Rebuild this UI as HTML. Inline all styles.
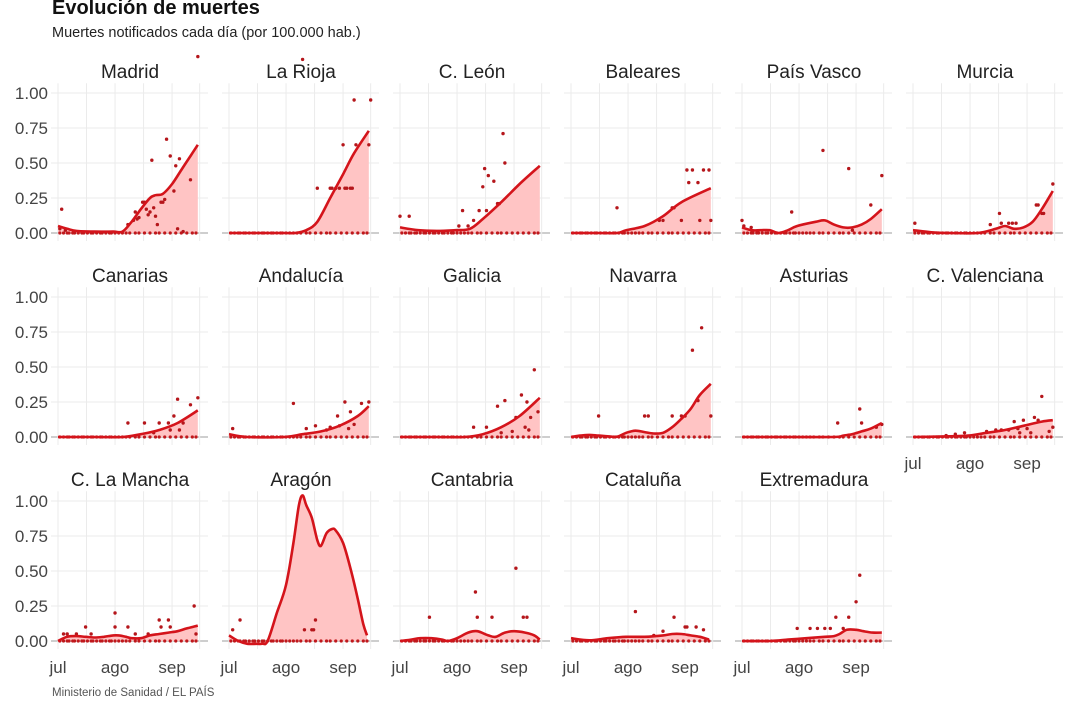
<!DOCTYPE html>
<html><head><meta charset="utf-8">
<style>
body{margin:0;background:#fff;width:1080px;height:701px;overflow:hidden;font-family:"Liberation Sans",sans-serif;}
svg{display:block}
</style></head>
<body>
<svg id="chart" width="1080" height="701" viewBox="0 0 1080 701">
<text x="52" y="14" font-size="20" font-weight="bold" fill="#111">Evolución de muertes</text>
<text x="52" y="37" font-size="14.5" fill="#222">Muertes notificados cada día (por 100.000 hab.)</text>
<text x="52" y="696" font-size="11.5" fill="#555">Ministerio de Sanidad / EL PAÍS</text>
</svg>
<script>
// ---- data ----
const regions = ["Madrid","La Rioja","C. León","Baleares","País Vasco","Murcia","Canarias","Andalucía","Galicia","Navarra","Asturias","C. Valenciana","C. La Mancha","Aragón","Cantabria","Cataluña","Extremadura"];
const yTicks = [0,0.25,0.5,0.75,1];
const yTickLabels = ["0.00","0.25","0.50","0.75","1.00"];
const xTicks = [0,31,62];
const xTickLabels = ["jul","ago","sep"];
const xGrid = [0,15.5,31,46.5,62,77];
const trendMadrid = [[0,.05],[5,.03],[10,.015],[20,.01],[30,.01],[35,.01],[40,.08],[45,.17],[50,.25],[53,.27],[57,.28],[62,.35],[67,.45],[72,.55],[76,.63]];
const trendRioja = [[0,0],[20,0],[30,0],[36,0],[42,.02],[48,.08],[55,.25],[62,.42],[68,.57],[76,.73]];
const trendLeon = [[0,.04],[10,.02],[20,.015],[30,.02],[38,.03],[45,.1],[55,.22],[65,.35],[76,.48]];
const trendBaleares = [[0,0],[15,0],[25,0],[30,.02],[40,.05],[50,.12],[60,.22],[76,.32]];
const trendVasco = [[0,.04],[5,.02],[10,.02],[15,.02],[20,0],[25,.02],[30,.05],[40,.08],[45,.09],[50,.06],[55,.04],[60,.04],[65,.06],[70,.1],[76,.17]];
const trendMurcia = [[0,.02],[10,.005],[20,0],[35,0],[45,.03],[50,.05],[55,.03],[60,.04],[65,.08],[70,.17],[76,.3]];
const trendCanarias = [[0,0],[20,0],[35,0],[45,.02],[55,.05],[65,.1],[76,.19]];
const trendAndalucia = [[0,.02],[10,0],[30,0],[40,.02],[50,.04],[60,.08],[70,.15],[76,.22]];
const trendGalicia = [[0,0],[20,0],[35,0],[45,.02],[55,.07],[65,.15],[76,.28]];
const trendNavarra = [[0,0],[5,.01],[10,.015],[15,.01],[20,.005],[25,.002],[30,.03],[35,.045],[40,.035],[45,.025],[50,.03],[55,.07],[60,.13],[65,.2],[70,.3],[76,.38]];
const trendAsturias = [[0,0],[25,0],[50,0],[55,.01],[60,.02],[65,.04],[70,.06],[76,.1]];
const trendValenciana = [[0,0],[20,.005],[30,.01],[40,.03],[50,.05],[60,.08],[70,.11],[76,.12]];
const trendMancha = [[0,0],[5,.03],[10,.035],[15,.03],[20,.025],[25,.03],[30,.04],[33,.04],[37,.03],[40,.02],[45,.02],[50,.04],[55,.05],[60,.06],[65,.07],[70,.09],[76,.11]];
const trendAragon = [[0,.04],[5,0],[10,-.02],[15,-.02],[18,-.02],[21,0],[26,.2],[31,.4],[35,.7],[38,.97],[40,1.04],[42,.97],[45,.88],[48,.72],[50,.68],[53,.77],[56,.8],[58,.79],[62,.7],[66,.52],[70,.3],[73,.12],[75,.04]];
const trendCantabria = [[0,0],[6,.01],[11,.02],[17,.02],[23,.01],[26,0],[31,.02],[37,.06],[42,.07],[48,.04],[52,.03],[57,.06],[62,.07],[68,.06],[73,.04],[76,.01]];
const trendCataluna = [[0,.02],[10,.005],[20,.02],[30,.03],[40,.03],[50,.04],[55,.05],[60,.05],[65,.04],[70,.03],[75,.01]];
const trendExtremadura = [[0,0],[15,0],[25,.01],[35,.02],[45,.03],[50,.035],[53,.05],[57,.08],[62,.08],[66,.07],[71,.06],[76,.06]];
const dotsMadrid = [[2,.17],[1,.03],[4,.02],[38,.06],[41,.09],[42,.15],[43,.1],[44,.11],[46,.22],[47,.22],[48,.17],[49,.13],[50,.15],[51,.52],[52,.18],[53,.12],[54,.06],[56,.22],[57,.22],[58,.24],[59,.67],[61,.55],[63,.3],[64,.48],[66,.53],[65,.03],[68,.01],[72,.38],[76,1.26]];
const dotsRioja = [[40,1.24],[48,.32],[55,.32],[56,.32],[58,.32],[60,.32],[62,.63],[63,.32],[64,.32],[66,.32],[67,.32],[68,.95],[69,.63],[76,.63],[77,.95]];
const dotsLeon = [[0,.12],[5,.12],[32,.05],[34,.16],[37,.05],[40,.09],[43,.16],[45,.33],[46,.46],[47,.16],[48,.41],[51,.37],[53,.21],[54,.21],[56,.71],[57,.5]];
const dotsBaleares = [[25,.18],[48,.09],[50,.09],[55,.18],[56,.18],[60,.09],[64,.36],[63,.45],[66,.45],[69,.36],[70,.09],[72,.45],[75,.45],[76,.09]];
const dotsVasco = [[0,.09],[1,.05],[5,.04],[27,.15],[44,.59],[58,.46],[60,.02],[70,.2],[76,.41]];
const dotsMurcia = [[1,.07],[42,.06],[47,.14],[48,.07],[52,.07],[54,.07],[56,.07],[67,.2],[68,.2],[70,.14],[71,.14],[76,.35]];
const dotsCanarias = [[38,.1],[47,.1],[52,.03],[55,.1],[60,.1],[61,.05],[63,.15],[65,.27],[66,.05],[68,.1],[72,.23],[76,.28]];
const dotsAndalucia = [[2,.06],[35,.24],[42,.06],[47,.08],[53,.05],[55,.07],[59,.15],[60,.08],[63,.25],[65,.06],[66,.18],[68,.09],[72,.24],[76,.25]];
const dotsGalicia = [[40,.07],[47,.07],[53,.22],[55,.03],[57,.26],[61,.04],[63,.14],[66,.3],[68,.07],[69,.25],[70,.05],[71,.14],[73,.48],[75,.18]];
const dotsNavarra = [[15,.15],[40,.15],[42,.15],[55,.15],[60,.15],[62,.15],[66,.62],[69,.26],[71,.78],[76,.15]];
const dotsAsturias = [[52,.1],[64,.2],[65,.1],[73,.07],[76,.09]];
const dotsValenciana = [[18,.01],[23,.02],[28,.03],[40,.04],[45,.05],[48,.05],[52,.05],[55,.11],[57,.06],[58,.03],[60,.12],[62,.06],[64,.03],[66,.14],[68,.12],[70,.29],[74,.04],[76,.07]];
const dotsMancha = [[3,.05],[5,.05],[10,.05],[15,.1],[18,.05],[31,.2],[31,.1],[38,.1],[42,.05],[49,.05],[55,.15],[56,.1],[60,.15],[61,.1],[74,.25],[75,.05]];
const dotsAragon = [[2,.08],[6,.15],[41,.08],[45,.08],[46,.08],[47,.15]];
const dotsCantabria = [[16,.17],[41,.35],[42,.17],[50,.17],[63,.52],[67,.17],[69,.17]];
const dotsCataluna = [[35,.21],[45,.04],[50,.07],[56,.17],[62,.1],[63,.1],[68,.1],[72,.08]];
const dotsExtremadura = [[30,.09],[37,.09],[41,.09],[45,.09],[48,.09],[51,.17],[55,.09],[58,.17],[62,.28],[64,.47]];
const zeroDays = [1,3,5,6,8,9,11,13,14,16,18,19,21,23,24,26,28,29,31,33,35,37,39,42,44,47,50,53,55,58,61,64,67,70,73,75];
const trends = [trendMadrid,trendRioja,trendLeon,trendBaleares,trendVasco,trendMurcia,trendCanarias,trendAndalucia,trendGalicia,trendNavarra,trendAsturias,trendValenciana,trendMancha,trendAragon,trendCantabria,trendCataluna,trendExtremadura];
const dots = [dotsMadrid,dotsRioja,dotsLeon,dotsBaleares,dotsVasco,dotsMurcia,dotsCanarias,dotsAndalucia,dotsGalicia,dotsNavarra,dotsAsturias,dotsValenciana,dotsMancha,dotsAragon,dotsCantabria,dotsCataluna,dotsExtremadura];

// ---- layout ----
const NS="http://www.w3.org/2000/svg";
const svg=document.getElementById('chart');
const colX0=[58,229,400,571,742,913];
const rowY0=[233,437,641];
const DAY=1.84, UNIT=140;
function mk(tag,attrs,parent){const e=document.createElementNS(NS,tag);for(const k in attrs)e.setAttribute(k,attrs[k]);(parent||svg).appendChild(e);return e;}
function smooth(pts){
  let d="M"+pts[0][0].toFixed(1)+","+pts[0][1].toFixed(1);
  for(let i=0;i<pts.length-1;i++){
    const p0=pts[i-1]||pts[i],p1=pts[i],p2=pts[i+1],p3=pts[i+2]||p2;
    const c1=[p1[0]+(p2[0]-p0[0])/6,p1[1]+(p2[1]-p0[1])/6];
    const c2=[p2[0]-(p3[0]-p1[0])/6,p2[1]-(p3[1]-p1[1])/6];
    d+="C"+c1[0].toFixed(1)+","+c1[1].toFixed(1)+" "+c2[0].toFixed(1)+","+c2[1].toFixed(1)+" "+p2[0].toFixed(1)+","+p2[1].toFixed(1);
  }
  return d;
}
regions.forEach((name,i)=>{
  const r=Math.floor(i/6),c=i%6;
  const x0=colX0[c],y0=rowY0[r];
  const xs=d=>x0+d*DAY, ys=v=>y0-v*UNIT;
  const g=mk('g',{});
  
  
  const top=ys(1.07), bot=y0+8, left=x0-7, right=x0+150;
  yTicks.forEach(v=>{const l=mk('line',{x1:left,x2:right,y1:ys(v),y2:ys(v),stroke:v===0?'#b0b0b0':'#ebebeb','stroke-width':v===0?1.3:1},g);
    });
  xGrid.forEach(d=>{const l=mk('line',{x1:xs(d),x2:xs(d),y1:top,y2:bot,stroke:'#ebebeb','stroke-width':1},g);
    });
  const t=mk('text',{x:x0+72,y:y0-155,'text-anchor':'middle','font-size':19,fill:'#222'},g);
  t.textContent=name;
  
  if(c===0){yTicks.forEach((v,k)=>{const tl=mk('text',{x:48,y:ys(v)+6,'text-anchor':'end','font-size':17,fill:'#444'},g);tl.textContent=yTickLabels[k];
    });}
  if(r===2||i===11){xTicks.forEach((d,k)=>{const tl=mk('text',{x:xs(d),y:y0+32,'text-anchor':'middle','font-size':17,fill:'#444'},g);tl.textContent=xTickLabels[k];
    });}
  const pts=trends[i].map(p=>[xs(p[0]),ys(p[1])]);
  const path=smooth(pts);
  const last=pts[pts.length-1],first=pts[0];
  const area=mk('path',{d:path+"L"+last[0]+","+y0+"L"+first[0]+","+y0+"Z",fill:'#ffc4c4',stroke:'none'},g);
  
  zeroDays.forEach(d=>{if(d>trends[i][trends[i].length-1][0])return;const z=mk('circle',{cx:xs(d),cy:y0,r:1.6,fill:'#c0181c'},g);
    });
  dots[i].forEach(p=>{const z=mk('circle',{cx:xs(p[0]),cy:ys(p[1]),r:1.7,fill:'#b5161b'},g);
    });
  const ln=mk('path',{d:path,fill:'none',stroke:'#d4141b','stroke-width':2.6,'stroke-linejoin':'round'},g);
  
});
</script>
</body></html>
